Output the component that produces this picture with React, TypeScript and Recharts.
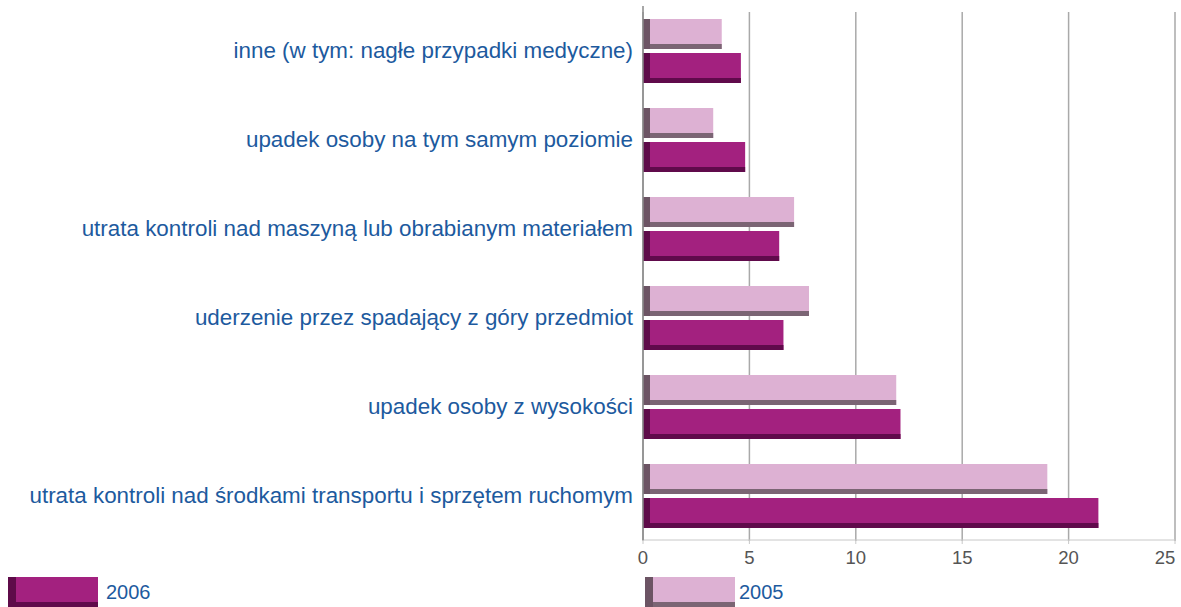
import { Bar, BarChart, CartesianGrid, Legend, XAxis, YAxis } from 'recharts';

const categories = [
  'inne (w tym: nagłe przypadki medyczne)',
  'upadek osoby na tym samym poziomie',
  'utrata kontroli nad maszyną lub obrabianym materiałem',
  'uderzenie przez spadający z góry przedmiot',
  'upadek osoby z wysokości',
  'utrata kontroli nad środkami transportu i sprzętem ruchomym',
];
const values2005 = [3.7, 3.3, 7.1, 7.8, 11.9, 19.0];
const values2006 = [4.6, 4.8, 6.4, 6.6, 12.1, 21.4];
const xTicks = [0, 5, 10, 15, 20, 25];

const data = categories.map((name, i) => ({ name, y2005: values2005[i], y2006: values2006[i] }));

const looks: Record<string, { main: string; side: string; bottom: string }> = {
  y2005: { main: '#ddb1d3', side: '#6c5464', bottom: '#7b6574' },
  y2006: { main: '#a3217f', side: '#5e0b49', bottom: '#600a4b' },
};

const Bar3D = (key: string) => (props: any) => {
  const { x, y, width, height } = props;
  const c = looks[key];
  if (!width || width <= 0) return null;
  return (
    <g>
      <rect x={x} y={y} width={width} height={height} fill={c.main} />
      <rect x={x} y={y + height - 5} width={width} height={5} fill={c.bottom} />
      <rect x={x} y={y} width={Math.min(7, width)} height={height} fill={c.side} />
    </g>
  );
};

const Swatch = ({ look }: { look: { main: string; side: string; bottom: string } }) => (
  <svg width={90} height={30} style={{ display: 'block' }}>
    <rect x={0} y={0} width={90} height={30} fill={look.main} />
    <rect x={0} y={25} width={90} height={5} fill={look.bottom} />
    <rect x={0} y={0} width={8} height={30} fill={look.side} />
  </svg>
);

const LegendBox = () => (
  <div style={{ position: 'relative', width: 1181, height: 31, fontFamily: '"Liberation Sans", Arial, sans-serif' }}>
    <div style={{ position: 'absolute', left: 8, top: 0, display: 'flex', alignItems: 'center' }}>
      <Swatch look={looks.y2006} />
      <span style={{ marginLeft: 8, fontSize: 20, color: '#1d5a9e' }}>2006</span>
    </div>
    <div style={{ position: 'absolute', left: 645, top: 0, display: 'flex', alignItems: 'center' }}>
      <Swatch look={looks.y2005} />
      <span style={{ marginLeft: 4, fontSize: 20, color: '#1d5a9e' }}>2005</span>
    </div>
  </div>
);

const XTick = (props: any) => {
  const { x, y, payload } = props;
  const shift = payload.value === 25 ? -8 : 0;
  return (
    <text x={x + shift} y={y} dy="0.71em" textAnchor="middle" fill="#555" fontSize={18.5}>
      {payload.value}
    </text>
  );
};

export default function App() {
  return (
    <div style={{ position: 'absolute', left: 0, top: 0, width: 1181, height: 607, background: '#fff', fontFamily: '"Liberation Sans", Arial, sans-serif' }}>
      <BarChart
        width={1181}
        height={607}
        data={data}
        layout="vertical"
        margin={{ top: 6, right: 6, bottom: 37, left: 0 }}
        barSize={30}
        barGap={4}
      >
        <CartesianGrid horizontal={false} stroke="#a9a9a9" strokeWidth={1.5} y={12} height={529} />
        <XAxis
          type="number"
          domain={[0, 25]}
          ticks={xTicks}
          tick={<XTick />}
          axisLine={{ stroke: '#c8c8c8' }}
          tickLine={{ stroke: '#c8c8c8' }}
          tickSize={4}
          tickMargin={7}
          height={30}
        />
        <YAxis
          type="category"
          dataKey="name"
          width={643}
          tickLine={false}
          axisLine={{ stroke: '#8a8a8a', strokeWidth: 1.5 }}
          tickMargin={4}
          tick={{ fill: '#1d5a9e', fontSize: 22.4 }}
          interval={0}
        />
        <Legend
          layout="horizontal"
          verticalAlign="middle"
          align="center"
          content={<LegendBox />}
          wrapperStyle={{ top: 577, left: 0, width: 1181 }}
        />
        <Bar dataKey="y2005" name="2005" fill={looks.y2005.main} shape={Bar3D('y2005')} isAnimationActive={false} />
        <Bar dataKey="y2006" name="2006" fill={looks.y2006.main} shape={Bar3D('y2006')} isAnimationActive={false} />
      </BarChart>
    </div>
  );
}
